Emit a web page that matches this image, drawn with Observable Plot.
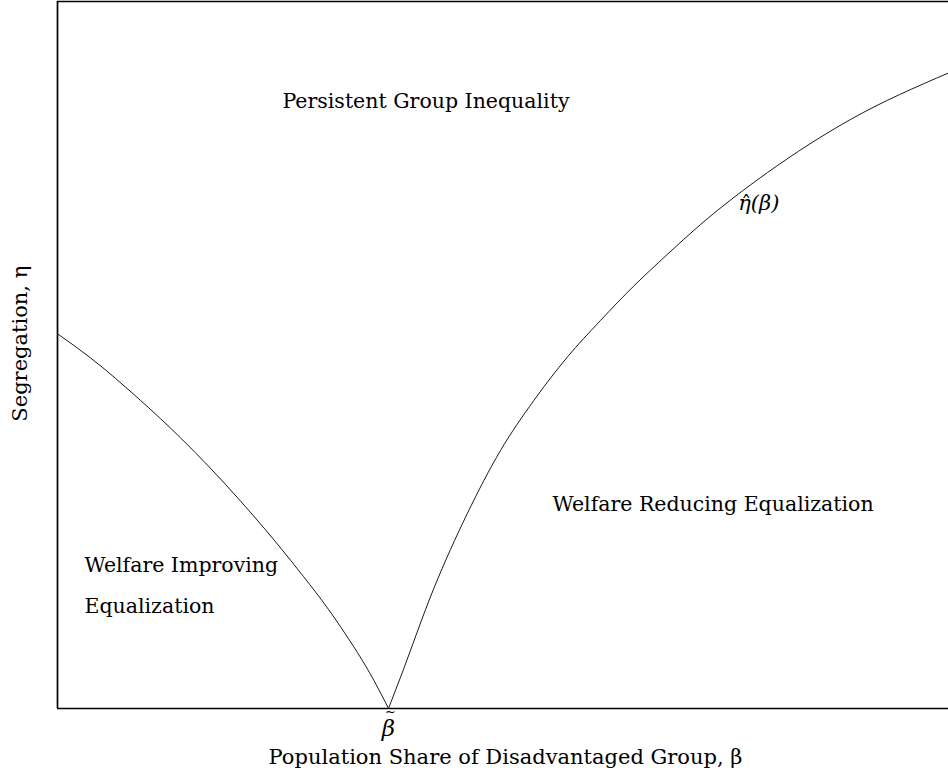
<!DOCTYPE html>
<html>
<head>
<meta charset="utf-8">
<script src="https://cdn.jsdelivr.net/npm/d3@7"></script>
<script src="https://cdn.jsdelivr.net/npm/@observablehq/plot@0.6"></script>
<style>
  html, body { margin: 0; padding: 0; background: #fff; }
  #chart svg { display: block; }
</style>
</head>
<body>
<div id="chart"></div>
<script>
// Left branch of eta-hat(beta): decreasing to beta-tilde
const leftBeta = [0, 0.037, 0.093, 0.138, 0.205, 0.262, 0.318, 0.355, 0.3715];
const leftEta  = [0.530, 0.496, 0.436, 0.383, 0.294, 0.209, 0.115, 0.040, 0];
// Right branch: increasing from beta-tilde
const rightBeta = [0.3715, 0.3850, 0.4223, 0.4598, 0.4972, 0.5346, 0.5721, 0.6094, 0.6468, 0.6843, 0.7217, 0.7969, 0.8900, 1.0];
const rightEta  = [0, 0.0443, 0.1697, 0.2754, 0.3649, 0.4356, 0.4969, 0.5488, 0.5976, 0.6421, 0.6846, 0.7581, 0.8331, 0.8989];
const betaTilde = 0.3715;

// Region labels
const regionText = ["Persistent Group Inequality", "Welfare Reducing Equalization", "Welfare Improving", "Equalization"];
const regionBeta = [0.2525, 0.5556, 0.0303, 0.0303];
const regionEta  = [0.8586, 0.2885, 0.2023, 0.1443];

const curveLabel = "η(β)";
const curveHat = "ˆ";
const tickLabel = "β";
const tickTilde = "~";
const xTitle = "Population Share of Disadvantaged Group, β";
const yTitle = "Segregation, η";

const curve = [
  ...leftBeta.map((b, i) => ({beta: b, eta: leftEta[i], branch: "left"})),
  ...rightBeta.map((b, i) => ({beta: b, eta: rightEta[i], branch: "right"}))
];
const regions = regionText.map((t, i) => ({t, beta: regionBeta[i], eta: regionEta[i]}));

const serif = "'DejaVu Serif', 'Liberation Serif', serif";

const chart = Plot.plot({
  width: 948,
  height: 776,
  marginLeft: 57,
  marginRight: 0,
  marginTop: 1,
  marginBottom: 68,
  x: {domain: [0, 1], axis: null},
  y: {domain: [0, 1], axis: null},
  style: {fontFamily: serif, background: "#fff", color: "#000"},
  marks: [
    Plot.ruleX([0], {stroke: "#000", strokeWidth: 1.7}),
    Plot.ruleY([0], {stroke: "#000", strokeWidth: 1.7}),
    Plot.ruleY([1], {stroke: "#000", strokeWidth: 1.7}),
    Plot.line(curve, {x: "beta", y: "eta", z: "branch", curve: "monotone-x", stroke: "#000", strokeWidth: 0.9}),
    Plot.text(regions, {x: "beta", y: "eta", text: "t", textAnchor: "start", fontSize: 20.5, fill: "#000"}),
    Plot.text([curveLabel], {x: [0.764], y: [0.714], text: d => d, textAnchor: "start", fontSize: 21, fontStyle: "italic", fill: "#000"}),
    Plot.text([curveHat], {x: [0.764], y: [0.714], text: d => d, textAnchor: "middle", dx: 8, dy: 1, fontSize: 20, fill: "#000"}),
    Plot.text([tickLabel], {x: [betaTilde], y: [-0.0396], text: d => d, lineAnchor: "bottom", fontSize: 23, fontStyle: "italic", fill: "#000"}),
    Plot.text([tickTilde], {x: [betaTilde], y: [-0.0113], text: d => d, lineAnchor: "bottom", dx: 2, fontSize: 13, fill: "#000"}),
    Plot.text([xTitle], {x: [0.5028], y: [-0.0778], text: d => d, lineAnchor: "bottom", fontSize: 21, fill: "#000"}),
    Plot.text([yTitle], {x: [-0.0415], y: [0.516], text: d => d, rotate: -90, fontSize: 21, fill: "#000"})
  ]
});
document.getElementById("chart").appendChild(chart);
</script>
</body>
</html>
